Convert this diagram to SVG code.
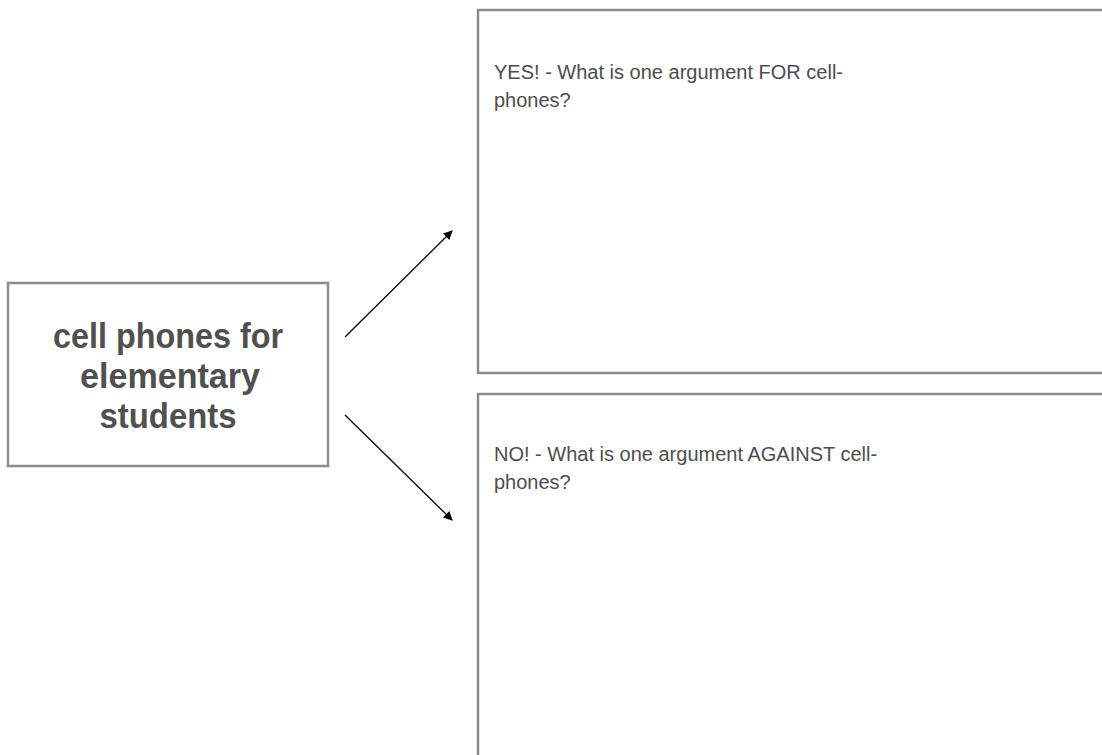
<svg xmlns="http://www.w3.org/2000/svg" width="1102" height="755" viewBox="0 0 1102 755">
  <style>
    .box { fill: #ffffff; stroke: #8a8c8e; stroke-width: 2.5; }
    .main { font-family: "Liberation Sans", Arial, sans-serif; font-weight: bold; font-size: 35px; fill: #505050; text-anchor: middle; }
    .q { font-family: "Liberation Sans", Arial, sans-serif; font-size: 20px; fill: #4d4d4d; }
    .conn { stroke: #000000; stroke-width: 1.3; fill: none; marker-end: url(#arrow); }
  </style>
  <defs>
    <marker id="arrow" viewBox="0 0 10 10" refX="9" refY="5" markerWidth="10" markerHeight="9" markerUnits="userSpaceOnUse" orient="auto">
      <path d="M0,0 L10,5 L0,10 z" fill="#000000"/>
    </marker>
  </defs>
  <rect x="0" y="0" width="1102" height="755" fill="#ffffff"/>
  <g id="node-topic">
    <rect class="box" x="8" y="283" width="320" height="183"/>
    <text class="main" x="168" y="348" textLength="230" lengthAdjust="spacingAndGlyphs">cell phones for</text>
    <text class="main" x="170" y="388" textLength="180" lengthAdjust="spacingAndGlyphs">elementary</text>
    <text class="main" x="168" y="428" textLength="137" lengthAdjust="spacingAndGlyphs">students</text>
  </g>
  <g id="node-yes">
    <rect class="box" x="478" y="10" width="640" height="363"/>
    <text class="q" x="494" y="79">YES! - What is one argument FOR cell-</text>
    <text class="q" x="494" y="107">phones?</text>
  </g>
  <g id="node-no">
    <rect class="box" x="478" y="394" width="640" height="380"/>
    <text class="q" x="494" y="461">NO! - What is one argument AGAINST cell-</text>
    <text class="q" x="494" y="489">phones?</text>
  </g>
  <g id="connectors">
    <line class="conn" x1="345" y1="337" x2="452" y2="231"/>
    <line class="conn" x1="345" y1="415" x2="452" y2="520"/>
  </g>
</svg>
